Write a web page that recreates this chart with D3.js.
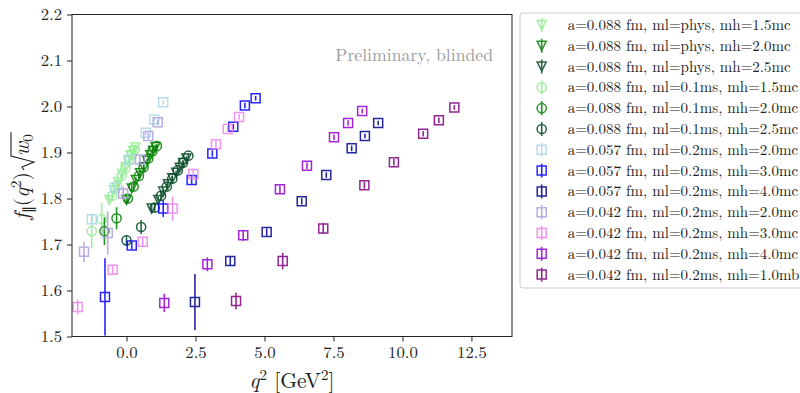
<!DOCTYPE html>
<html>
<head>
<meta charset="utf-8">
<script src="https://cdn.jsdelivr.net/npm/d3@7"></script>
<style>
body { margin: 0; background: #fff; }
svg text { font-family: "Latin Modern Roman", "Liberation Serif", serif; }
</style>
</head>
<body>
<script>
// legend labels, one per ensemble / heavy mass
var labels = [
    "a=0.088 fm, ml=phys, mh=1.5mc",
    "a=0.088 fm, ml=phys, mh=2.0mc",
    "a=0.088 fm, ml=phys, mh=2.5mc",
    "a=0.088 fm, ml=0.1ms, mh=1.5mc",
    "a=0.088 fm, ml=0.1ms, mh=2.0mc",
    "a=0.088 fm, ml=0.1ms, mh=2.5mc",
    "a=0.057 fm, ml=0.2ms, mh=2.0mc",
    "a=0.057 fm, ml=0.2ms, mh=3.0mc",
    "a=0.057 fm, ml=0.2ms, mh=4.0mc",
    "a=0.042 fm, ml=0.2ms, mh=2.0mc",
    "a=0.042 fm, ml=0.2ms, mh=3.0mc",
    "a=0.042 fm, ml=0.2ms, mh=4.0mc",
    "a=0.042 fm, ml=0.2ms, mh=1.0mb"
];
var colors = ["#90ee90", "#008000", "#064a26", "#90ee90", "#008000", "#064a26",
    "#add8e6", "#0000ff", "#00008b", "#b09ee0", "#ee82ee", "#9400d3", "#800080"];
var markers = ["tri", "tri", "tri", "circle", "circle", "circle",
    "square", "square", "square", "square", "square", "square", "square"];

// q^2 values (GeV^2)
var q2 = [
    [-0.62, -0.45, -0.30, -0.16, -0.04, 0.07, 0.16, 0.24, 0.32],
    [0.00, 0.19, 0.34, 0.49, 0.63, 0.75, 0.86, 0.96, 1.05],
    [0.91, 1.15, 1.33, 1.50, 1.66, 1.80, 1.93, 2.05, 2.17],
    [-1.26, -0.90, -0.52, -0.34, -0.18, -0.04, 0.09, 0.20, 0.29],
    [-0.80, -0.36, 0.05, 0.26, 0.45, 0.62, 0.79, 0.94, 1.10],
    [0.00, 0.53, 1.02, 1.25, 1.46, 1.66, 1.86, 2.05, 2.24],
    [-1.26, -0.42, 0.09, 0.70, 1.01, 1.33],
    [-0.78, 0.19, 1.33, 2.36, 3.11, 3.87, 4.29, 4.68],
    [2.48, 3.76, 5.08, 6.35, 7.24, 8.16, 8.64, 9.12],
    [-1.54, -0.68, -0.12, 0.49, 0.79, 1.13],
    [-1.77, -0.50, 0.59, 1.67, 2.42, 3.24, 3.67, 4.08],
    [1.37, 2.93, 4.23, 5.56, 6.54, 7.52, 8.03, 8.54],
    [3.97, 5.66, 7.13, 8.62, 9.69, 10.75, 11.32, 11.88]
];
// f_par(q^2) sqrt(w0)
var fval = [
    [1.797, 1.818, 1.836, 1.853, 1.868, 1.882, 1.894, 1.903, 1.911],
    [1.797, 1.822, 1.840, 1.855, 1.868, 1.882, 1.894, 1.904, 1.912],
    [1.778, 1.797, 1.815, 1.831, 1.844, 1.856, 1.867, 1.877, 1.887],
    [1.729, 1.755, 1.806, 1.829, 1.849, 1.866, 1.883, 1.896, 1.906],
    [1.729, 1.757, 1.800, 1.826, 1.849, 1.868, 1.887, 1.903, 1.914],
    [1.709, 1.738, 1.780, 1.806, 1.826, 1.843, 1.861, 1.878, 1.893],
    [1.755, 1.824, 1.884, 1.943, 1.972, 2.009],
    [1.586, 1.698, 1.778, 1.840, 1.898, 1.956, 2.002, 2.018],
    [1.575, 1.664, 1.727, 1.794, 1.851, 1.909, 1.936, 1.964],
    [1.684, 1.725, 1.811, 1.885, 1.936, 1.966],
    [1.564, 1.645, 1.706, 1.778, 1.853, 1.918, 1.951, 1.977],
    [1.573, 1.657, 1.720, 1.820, 1.871, 1.933, 1.964, 1.990],
    [1.577, 1.664, 1.735, 1.829, 1.879, 1.941, 1.970, 1.998]
];
// errors
var ferr = [
    [0.010, 0.008, 0.007, 0.006, 0.006, 0.005, 0.005, 0.005, 0.005],
    [0.009, 0.007, 0.006, 0.006, 0.005, 0.005, 0.005, 0.005, 0.005],
    [0.010, 0.008, 0.007, 0.006, 0.006, 0.005, 0.005, 0.005, 0.005],
    [0.038, 0.035, 0.012, 0.009, 0.007, 0.006, 0.006, 0.005, 0.005],
    [0.030, 0.024, 0.010, 0.008, 0.007, 0.006, 0.005, 0.005, 0.005],
    [0.012, 0.015, 0.009, 0.008, 0.007, 0.006, 0.006, 0.005, 0.005],
    [0.012, 0.008, 0.006, 0.005, 0.005, 0.005],
    [0.084, 0.008, 0.018, 0.008, 0.007, 0.006, 0.006, 0.005],
    [0.061, 0.010, 0.008, 0.007, 0.006, 0.006, 0.005, 0.005],
    [0.022, 0.047, 0.015, 0.010, 0.007, 0.006],
    [0.016, 0.010, 0.010, 0.026, 0.009, 0.007, 0.006, 0.006],
    [0.020, 0.015, 0.012, 0.008, 0.007, 0.006, 0.006, 0.005],
    [0.018, 0.018, 0.012, 0.008, 0.007, 0.006, 0.006, 0.005]
];
var xTicks = [0, 2.5, 5, 7.5, 10, 12.5];
var yTicks = [1.5, 1.6, 1.7, 1.8, 1.9, 2.0, 2.1, 2.2];

var svg = d3.select("body").append("svg")
    .attr("width", 800)
    .attr("height", 393);

var x = d3.scaleLinear().domain([-1.975, 13.97]).range([72, 512]);
var y = d3.scaleLinear().domain([1.5, 2.2]).range([336.5, 14.5]);

function markerPath(m) {
    if (m == "tri") return "M-4.5,-4.5L4.5,-4.5L0,4.5Z";
    if (m == "circle") return d3.symbol().type(d3.symbolCircle).size(Math.PI * 4.6 * 4.6)();
    return d3.symbol().type(d3.symbolSquare).size(81)();
}

// data
labels.forEach(function(lab, s) {
    var pts = q2[s].map(function(d, i) {
        return {q: d, f: fval[s][i], e: ferr[s][i]};
    });
    var g = svg.append("g").attr("stroke", colors[s]).attr("fill", "none").attr("opacity", 0.85);
    g.selectAll("line")
        .data(pts)
        .enter().append("line")
        .attr("x1", function(d){ return x(d.q); })
        .attr("x2", function(d){ return x(d.q); })
        .attr("y1", function(d){ return y(d.f - d.e); })
        .attr("y2", function(d){ return y(d.f + d.e); })
        .attr("stroke-width", 1.6);
    g.selectAll("path")
        .data(pts)
        .enter().append("path")
        .attr("d", markerPath(markers[s]))
        .attr("transform", function(d){ return "translate(" + x(d.q) + "," + y(d.f) + ")"; })
        .attr("stroke-width", 1.5);
});

// axes
var xAxis = svg.append("g")
    .attr("transform", "translate(0,336.5)")
    .call(d3.axisBottom(x).tickValues(xTicks).tickFormat(d3.format(".1f")).tickSize(5).tickPadding(5).tickSizeOuter(0));
var yAxis = svg.append("g")
    .attr("transform", "translate(72,0)")
    .call(d3.axisLeft(y).tickValues(yTicks).tickFormat(d3.format(".1f")).tickSize(5).tickPadding(5).tickSizeOuter(0));
[xAxis, yAxis].forEach(function(a) {
    a.attr("font-family", null);
    a.selectAll("text").attr("font-size", 16.7).attr("fill", "#222");
    a.selectAll("line").attr("stroke", "#222");
    a.select(".domain").remove();
});

svg.append("rect")
    .attr("x", 72).attr("y", 14.5)
    .attr("width", 440).attr("height", 322)
    .attr("fill", "none").attr("stroke", "#222").attr("stroke-width", 1);

// annotation
svg.append("text")
    .attr("x", 493).attr("y", 61)
    .attr("text-anchor", "end")
    .attr("font-size", 17.7)
    .attr("fill", "#999")
    .text("Preliminary, blinded");

// axis labels
var xl = svg.append("text")
    .attr("x", 292).attr("y", 388)
    .attr("text-anchor", "middle")
    .attr("font-size", 21.5)
    .attr("fill", "#222");
xl.append("tspan").attr("font-style", "italic").text("q");
xl.append("tspan").attr("dy", -8).attr("font-size", 15).text("2");
xl.append("tspan").attr("dy", 8).text(" [GeV");
xl.append("tspan").attr("dy", -8).attr("font-size", 15).text("2");
xl.append("tspan").attr("dy", 8).text("]");

// y label with a drawn radical
var yg = svg.append("g");
var t1 = yg.append("text").attr("font-size", 21.5).attr("fill", "#222");
t1.append("tspan").attr("font-style", "italic").text("f");
t1.append("tspan").attr("dy", 4).attr("font-size", 14).text("∥");
t1.append("tspan").attr("dy", -4).text("(");
t1.append("tspan").attr("font-style", "italic").text("q");
t1.append("tspan").attr("dy", -8).attr("font-size", 15).text("2");
t1.append("tspan").attr("dy", 8).text(")");
var w1 = t1.node().getComputedTextLength();
var t2 = yg.append("text").attr("font-size", 21.5).attr("fill", "#222").attr("x", w1 + 16);
t2.append("tspan").attr("font-style", "italic").text("w");
t2.append("tspan").attr("dy", 4).attr("font-size", 15).text("0");
var w2 = t2.node().getComputedTextLength();
var rx = w1 + 2;
yg.append("path")
    .attr("d", "M" + rx + ",-5L" + (rx + 3) + ",-7L" + (rx + 8) + ",5L" + (rx + 14) + ",-18L" + (w1 + 18 + w2) + ",-18")
    .attr("fill", "none").attr("stroke", "#222").attr("stroke-width", 1.1);
var total = w1 + 18 + w2;
yg.attr("transform", "translate(29,176) rotate(-90) translate(" + (-total / 2) + ",0)");

// legend
var lg = svg.append("g");
lg.append("rect")
    .attr("x", 520).attr("y", 13)
    .attr("width", 300).attr("height", 275)
    .attr("rx", 3)
    .attr("fill", "#fff").attr("stroke", "#ccc");
labels.forEach(function(lab, s) {
    var cy = 25 + s * 20.8;
    var row = lg.append("g").attr("stroke", colors[s]).attr("fill", "none").attr("opacity", 0.85);
    row.append("line")
        .attr("x1", 541.7).attr("x2", 541.7)
        .attr("y1", cy - 7).attr("y2", cy + 7)
        .attr("stroke-width", 1.6);
    row.append("path")
        .attr("d", markerPath(markers[s]))
        .attr("transform", "translate(541.7," + cy + ")")
        .attr("stroke-width", 1.5);
    lg.append("text")
        .attr("x", 567.7).attr("y", cy + 5)
        .attr("font-size", 15)
        .attr("fill", "#222")
        .text(lab);
});
</script>
</body>
</html>
